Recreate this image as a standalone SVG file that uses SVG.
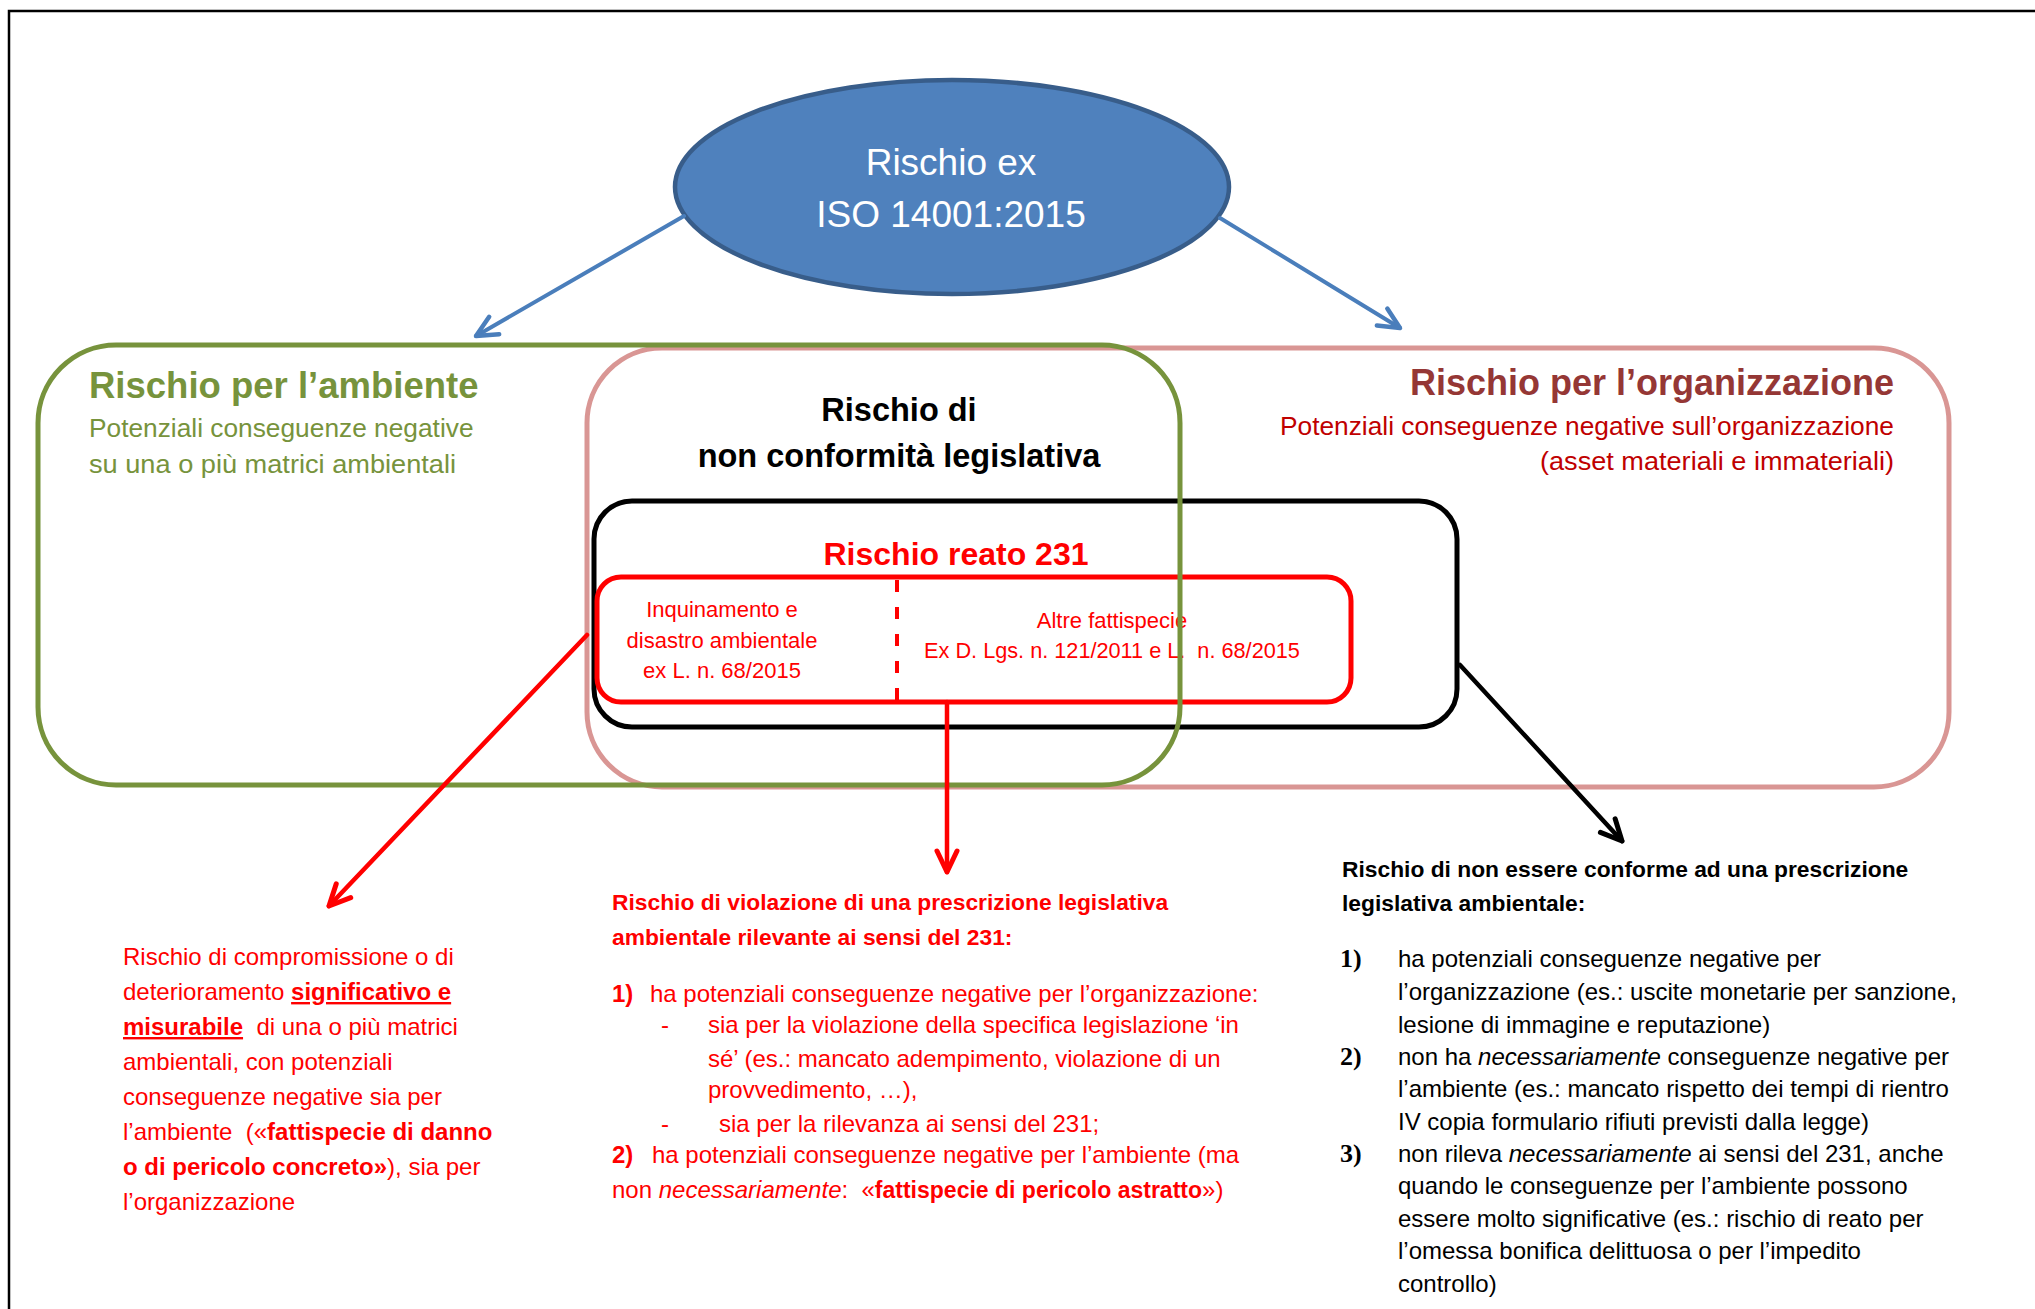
<svg xmlns="http://www.w3.org/2000/svg" width="2035" height="1309" viewBox="0 0 2035 1309">
  <style>
    text { font-family: "Liberation Sans", Arial, sans-serif; }
    .b { font-weight: bold; }
    .i { font-style: italic; }
    .u { text-decoration: underline; }
    .num { font-family: "Liberation Serif", "Times New Roman", serif; font-weight: bold; font-size: 26px; }
    .red { fill: #FF0000; }
    .blk { fill: #000000; }
    .body { font-size: 24px; }
    .hdr { font-size: 22.8px; font-weight: bold; }
    .box { fill: none; }
  </style>
  <defs>
    <marker id="ah-blue" viewBox="-26 -14 30 28" markerWidth="30" markerHeight="28" refX="0" refY="0" orient="auto" markerUnits="userSpaceOnUse">
      <path d="M-21,-10 L0,0 L-21,10" fill="none" stroke="#4A7EBB" stroke-width="4.5" stroke-linecap="round" stroke-linejoin="round"/>
    </marker>
    <marker id="ah-red" viewBox="-26 -14 30 28" markerWidth="30" markerHeight="28" refX="0" refY="0" orient="auto" markerUnits="userSpaceOnUse">
      <path d="M-21,-10 L0,0 L-21,10" fill="none" stroke="#FF0000" stroke-width="5" stroke-linecap="round" stroke-linejoin="round"/>
    </marker>
    <marker id="ah-black" viewBox="-26 -14 30 28" markerWidth="30" markerHeight="28" refX="0" refY="0" orient="auto" markerUnits="userSpaceOnUse">
      <path d="M-21,-10 L0,0 L-21,10" fill="none" stroke="#000000" stroke-width="5" stroke-linecap="round" stroke-linejoin="round"/>
    </marker>
  </defs>

  <rect width="2035" height="1309" fill="#FFFFFF"/>

  <!-- page frame -->
  <path d="M9,1309 V11 H2035" fill="none" stroke="#000000" stroke-width="2.5"/>

  <!-- top ellipse -->
  <g id="node-iso">
    <ellipse cx="952" cy="187" rx="277" ry="107" fill="#4F81BD" stroke="#385D8A" stroke-width="4.5"/>
    <text x="951" y="175" text-anchor="middle" font-size="37" fill="#FFFFFF">Rischio ex</text>
    <text x="951" y="227" text-anchor="middle" font-size="37" fill="#FFFFFF">ISO 14001:2015</text>
  </g>

  <!-- organisation risk area -->
  <g id="node-organizzazione">
    <rect class="box" x="587" y="348" width="1362" height="439" rx="75" ry="75" stroke="#D99694" stroke-width="5"/>
    <text x="1894" y="395" text-anchor="end" class="b" font-size="36" fill="#953735">Rischio per l’organizzazione</text>
    <text x="1894" y="435" text-anchor="end" font-size="26.3" fill="#C00000">Potenziali conseguenze negative sull’organizzazione</text>
    <text x="1894" y="470" text-anchor="end" font-size="26.5" fill="#C00000" textLength="354" lengthAdjust="spacingAndGlyphs">(asset materiali e immateriali)</text>
  </g>

  <!-- legislative non-compliance -->
  <g id="node-nonconformita">
    <text x="899" y="421" text-anchor="middle" class="b blk" font-size="32.5">Rischio di</text>
    <text x="899" y="467" text-anchor="middle" class="b blk" font-size="32.5">non conformità legislativa</text>
    <rect class="box" x="594" y="501" width="863" height="226" rx="38" ry="38" stroke="#000000" stroke-width="5"/>
  </g>

  <!-- offence 231 -->
  <g id="node-reato231">
    <text x="956" y="565" text-anchor="middle" class="b red" font-size="32">Rischio reato 231</text>
    <rect class="box" x="597" y="577" width="754" height="125" rx="24" ry="24" stroke="#FF0000" stroke-width="5"/>
    <line x1="897" y1="580" x2="897" y2="700" stroke="#FF0000" stroke-width="4" stroke-dasharray="12 15"/>
    <text x="722" y="617" text-anchor="middle" class="red" font-size="22">Inquinamento e</text>
    <text x="722" y="648" text-anchor="middle" class="red" font-size="22">disastro ambientale</text>
    <text x="722" y="678" text-anchor="middle" class="red" font-size="22">ex L. n. 68/2015</text>
    <text x="1112" y="628" text-anchor="middle" class="red" font-size="22">Altre fattispecie</text>
    <text x="1112" y="658" text-anchor="middle" class="red" font-size="21.7" xml:space="preserve">Ex D. Lgs. n. 121/2011 e L.  n. 68/2015</text>
  </g>

  <!-- environmental risk area -->
  <g id="node-ambiente">
    <rect class="box" x="38" y="345" width="1142" height="440" rx="78" ry="78" stroke="#77933C" stroke-width="5"/>
    <text x="89" y="398" class="b" font-size="36.5" fill="#77933C">Rischio per l’ambiente</text>
    <text x="89" y="437" font-size="26.3" fill="#77933C">Potenziali conseguenze negative</text>
    <text x="89" y="473" font-size="26.5" fill="#77933C" textLength="367" lengthAdjust="spacingAndGlyphs">su una o più matrici ambientali</text>
  </g>

  <!-- connectors -->
  <g id="connectors" fill="none" stroke-linecap="round">
    <line x1="684" y1="216" x2="476" y2="336" stroke="#4A7EBB" stroke-width="4" marker-end="url(#ah-blue)"/>
    <line x1="1220" y1="218" x2="1400" y2="328" stroke="#4A7EBB" stroke-width="4" marker-end="url(#ah-blue)"/>
    <line x1="587" y1="635" x2="329" y2="906" stroke="#FF0000" stroke-width="4.5" marker-end="url(#ah-red)"/>
    <line x1="947" y1="702" x2="947" y2="872" stroke="#FF0000" stroke-width="4.5" marker-end="url(#ah-red)"/>
    <line x1="1460" y1="665" x2="1622" y2="841" stroke="#000000" stroke-width="4.5" marker-end="url(#ah-black)"/>
  </g>

  <!-- note: environmental damage -->
  <g id="node-nota-ambiente" class="red body">
    <text x="123" y="965">Rischio di compromissione o di</text>
    <text x="123" y="1000" xml:space="preserve">deterioramento <tspan class="b u" font-size="24">significativo e</tspan></text>
    <text x="123" y="1035" xml:space="preserve"><tspan class="b u" font-size="24">misurabile</tspan>  di una o più matrici</text>
    <text x="123" y="1070">ambientali, con potenziali</text>
    <text x="123" y="1105">conseguenze negative sia per</text>
    <text x="123" y="1140" xml:space="preserve">l’ambiente  («<tspan class="b" font-size="24">fattispecie di danno</tspan></text>
    <text x="123" y="1175" xml:space="preserve"><tspan class="b" font-size="24">o di pericolo concreto»</tspan>), sia per</text>
    <text x="123" y="1210">l’organizzazione</text>
  </g>

  <!-- note: 231 offence -->
  <g id="node-nota-231" class="red body">
    <text x="612" y="910" class="hdr">Rischio di violazione di una prescrizione legislativa</text>
    <text x="612" y="945" class="hdr">ambientale rilevante ai sensi del 231:</text>
    <text x="612" y="1002" class="b">1)</text>
    <text x="650" y="1002">ha potenziali conseguenze negative per l’organizzazione:</text>
    <text x="661" y="1033">-</text>
    <text x="708" y="1033">sia per la violazione della specifica legislazione ‘in</text>
    <text x="708" y="1067">sé’ (es.: mancato adempimento, violazione di un</text>
    <text x="708" y="1098">provvedimento, …),</text>
    <text x="661" y="1132">-</text>
    <text x="719" y="1132">sia per la rilevanza ai sensi del 231;</text>
    <text x="612" y="1163" class="b">2)</text>
    <text x="652" y="1163">ha potenziali conseguenze negative per l’ambiente (ma</text>
    <text x="612" y="1198" xml:space="preserve">non <tspan class="i">necessariamente</tspan>:  «<tspan class="b" font-size="23">fattispecie di pericolo astratto</tspan>»)</text>
  </g>

  <!-- note: legislative non-compliance -->
  <g id="node-nota-conformita" class="blk body">
    <text x="1342" y="877" class="hdr">Rischio di non essere conforme ad una prescrizione</text>
    <text x="1342" y="911" class="hdr">legislativa ambientale:</text>
    <text x="1340" y="967" class="num">1)</text>
    <text x="1398" y="967">ha potenziali conseguenze negative per</text>
    <text x="1398" y="1000">l’organizzazione (es.: uscite monetarie per sanzione,</text>
    <text x="1398" y="1033">lesione di immagine e reputazione)</text>
    <text x="1340" y="1065" class="num">2)</text>
    <text x="1398" y="1065" xml:space="preserve">non ha <tspan class="i">necessariamente</tspan> conseguenze negative per</text>
    <text x="1398" y="1097">l’ambiente (es.: mancato rispetto dei tempi di rientro</text>
    <text x="1398" y="1130">IV copia formulario rifiuti previsti dalla legge)</text>
    <text x="1340" y="1162" class="num">3)</text>
    <text x="1398" y="1162" xml:space="preserve">non rileva <tspan class="i">necessariamente</tspan> ai sensi del 231, anche</text>
    <text x="1398" y="1194">quando le conseguenze per l’ambiente possono</text>
    <text x="1398" y="1227">essere molto significative (es.: rischio di reato per</text>
    <text x="1398" y="1259">l’omessa bonifica delittuosa o per l’impedito</text>
    <text x="1398" y="1292">controllo)</text>
  </g>
</svg>
